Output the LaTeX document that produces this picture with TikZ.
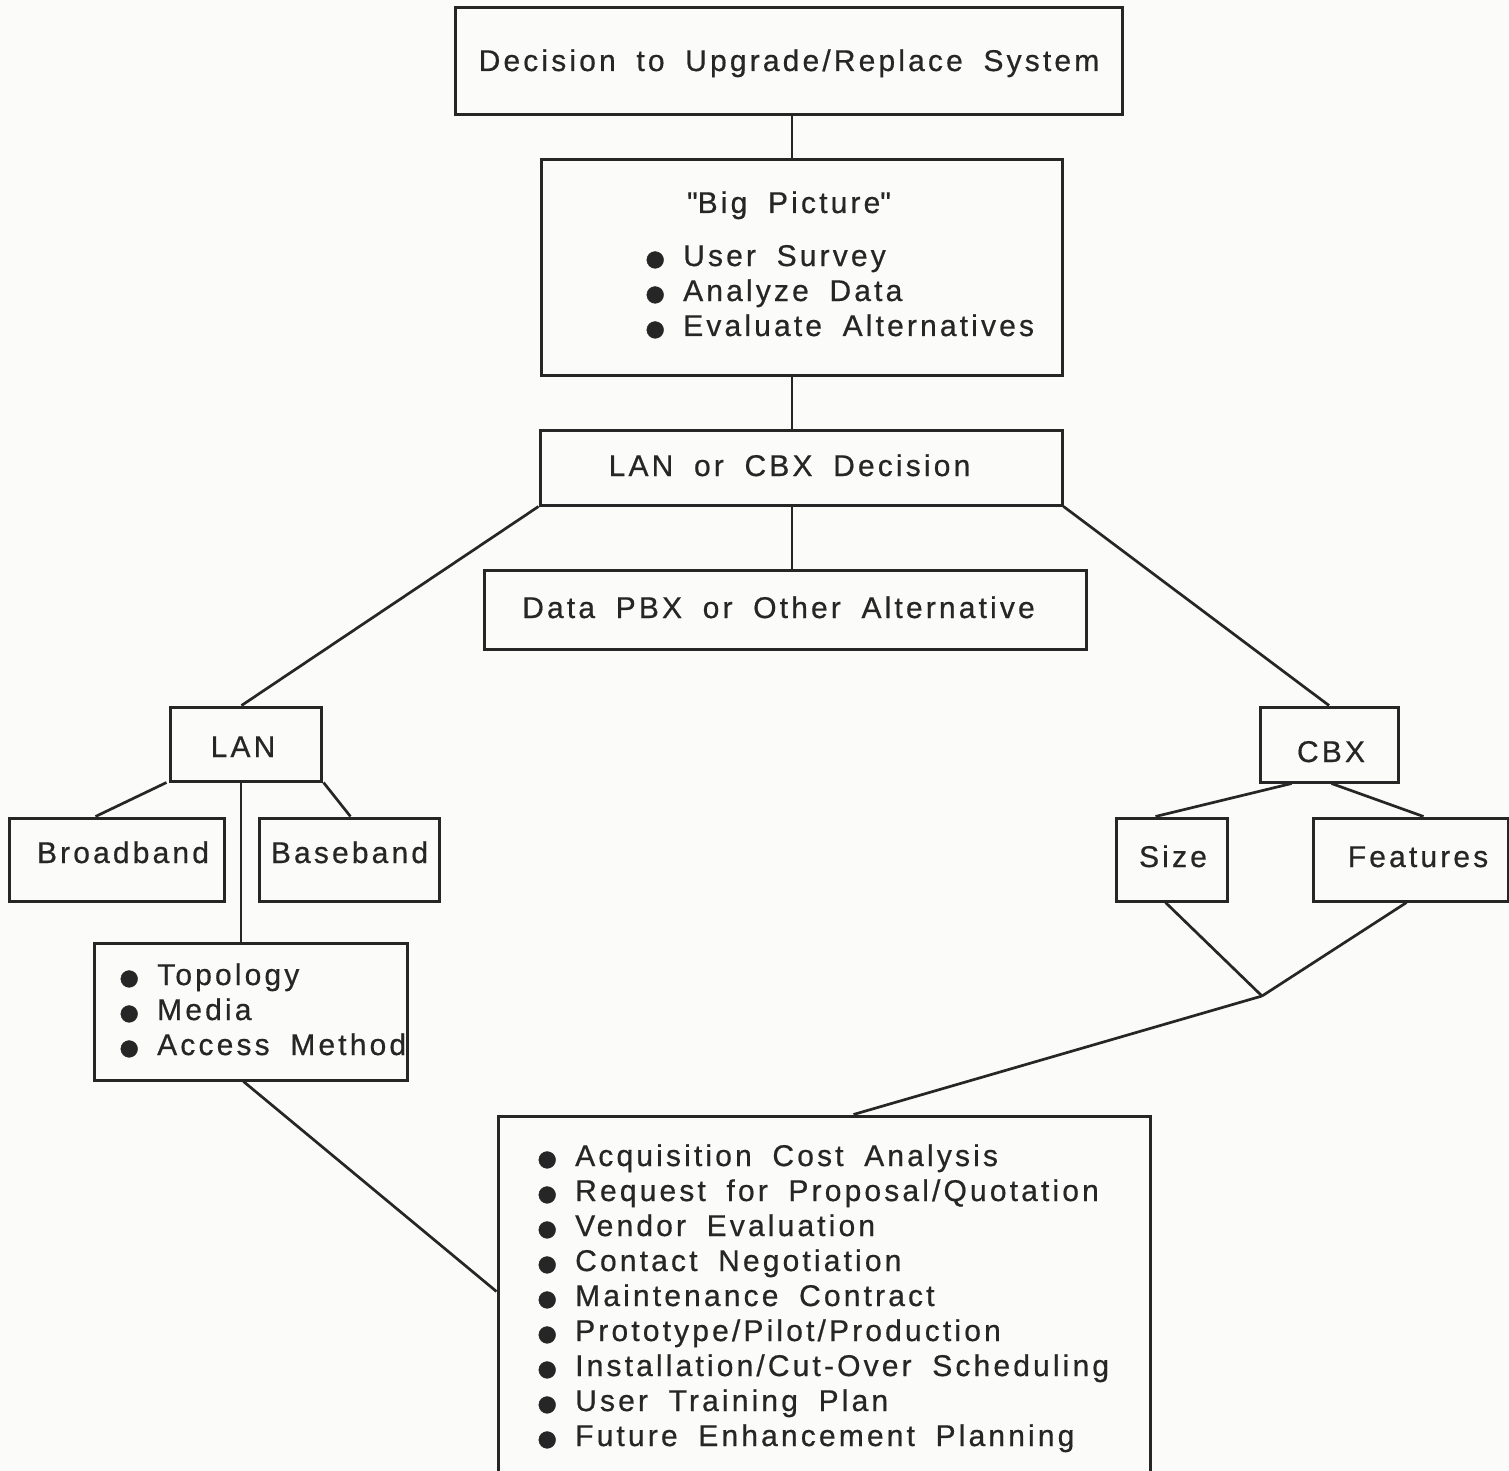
\documentclass[tikz,border=0pt]{standalone}
\usepackage{fontspec}
\setmainfont{Liberation Sans}[LetterSpace=10.5, WordSpace=1.8, FakeBold=0.6]
\usetikzlibrary{calc}
\definecolor{ink}{RGB}{38,38,38}
\definecolor{paper}{RGB}{251,251,249}
% bullet hung 28pt to the left of the item text, without changing the line height
\newcommand\blt{\llap{\makebox[56pt]{\fontsize{62}{62}\selectfont\raisebox{-14.5pt}[0pt][0pt]{•}}}}
\newcommand\itemlist[1]{\begin{tabular}[t]{@{}l@{}}#1\end{tabular}}
\begin{document}
\begin{tikzpicture}[x=1pt,y=-1pt,
  box/.style={draw=ink, line width=3pt, inner sep=0pt, fill=none},
  txt/.style={text=ink, inner sep=0pt, font=\fontsize{30}{35}\selectfont},
  link/.style={draw=ink, line width=2.7pt}]
\path[use as bounding box, fill=paper] (0,0) rectangle (1509,1471);
\clip (0,0) rectangle (1509,1471);

% boxes
\node[box, minimum width=667, minimum height=107] (top)   at (788.5,61.5) {};
\node[box, minimum width=521, minimum height=215] (big)   at (801.5,267.5) {};
\node[box, minimum width=522, minimum height=75]  (dec)   at (801,467.5) {};
\node[box, minimum width=602, minimum height=79]  (pbx)   at (785,609.5) {};
\node[box, minimum width=151, minimum height=74]  (lan)   at (245.5,744) {};
\node[box, minimum width=215, minimum height=83]  (broad) at (116.5,859.5) {};
\node[box, minimum width=180, minimum height=83]  (base)  at (349,859.5) {};
\node[box, minimum width=313, minimum height=137] (topo)  at (250.5,1011.5) {};
\node[box, minimum width=138, minimum height=75]  (cbx)   at (1329,744.5) {};
\node[box, minimum width=111, minimum height=83]  (size)  at (1171.5,859.5) {};
\node[box, minimum width=195, minimum height=83]  (feat)  at (1410.5,859.5) {};
\node[box, minimum width=652, minimum height=384] (bot)   at (824,1308) {};

% labels
\node[txt, anchor=base] (toptxt)   at (789,71)   {Decision to Upgrade/Replace System};
\node[txt, anchor=base] (bigtitle) at (789,213)  {\textquotedbl Big Picture\textquotedbl};
\node[txt, anchor=base west] (bigitems) at (683,266)
  {\itemlist{\blt User Survey\\ \blt Analyze Data\\ \blt Evaluate Alternatives}};
\node[txt, anchor=base] (dectxt)   at (789.5,476) {LAN or CBX Decision};
\node[txt, anchor=base] (pbxtxt)   at (778.5,618) {Data PBX or Other Alternative};
\node[txt, anchor=base] (lantxt)   at (243,757)  {LAN};
\node[txt, anchor=base] (broadtxt) at (123,863)  {Broadband};
\node[txt, anchor=base] (basetxt)  at (349.5,863) {Baseband};
\node[txt, anchor=base west] (topoitems) at (157,985)
  {\itemlist{\blt Topology\\ \blt Media\\ \blt Access Method}};
\node[txt, anchor=base] (cbxtxt)   at (1331,762) {CBX};
\node[txt, anchor=base] (sizetxt)  at (1173,867) {Size};
\node[txt, anchor=base] (feattxt)  at (1418,867) {Features};
\node[txt, anchor=base west] (botitems) at (575,1166)
  {\itemlist{\blt Acquisition Cost Analysis\\
             \blt Request for Proposal/Quotation\\
             \blt Vendor Evaluation\\
             \blt Contact Negotiation\\
             \blt Maintenance Contract\\
             \blt Prototype/Pilot/Production\\
             \blt Installation/Cut-Over Scheduling\\
             \blt User Training Plan\\
             \blt Future Enhancement Planning}};

% connectors
\coordinate (spine)  at (792,0);
\coordinate (trunk)  at (241,0);
\coordinate (join)   at (1262,996);
\draw[link] (top.south -| spine) -- (big.north -| spine);
\draw[link] (big.south -| spine) -- (dec.north -| spine);
\draw[link] (dec.south -| spine) -- (pbx.north -| spine);
\draw[link] (dec.south west) -- ($(lan.north west)+(73,0)$);
\draw[link] (dec.south east) -- (cbx.north);
\draw[link] ($(lan.south west)+(-2,0)$) -- ($(broad.north west)+(88,0)$);
\draw[link] ($(lan.south east)+(1,0)$) -- ($(base.north west)+(93,0)$);
\draw[link] (lan.south -| trunk) -- (topo.north -| trunk);
\draw[link] ($(topo.south west)+(151,0)$) -- ($(bot.north west)+(0,177)$);
\draw[link] ($(cbx.south west)+(33,0)$) -- ($(size.north west)+(41,0)$);
\draw[link] ($(cbx.south west)+(73,0)$) -- ($(feat.north west)+(112,0)$);
\draw[link] ($(size.south west)+(51,0)$) -- (join);
\draw[link] ($(feat.south west)+(95,0)$) -- (join);
\draw[link] (join) -- ($(bot.north west)+(357,0)$);
\end{tikzpicture}
\end{document}
